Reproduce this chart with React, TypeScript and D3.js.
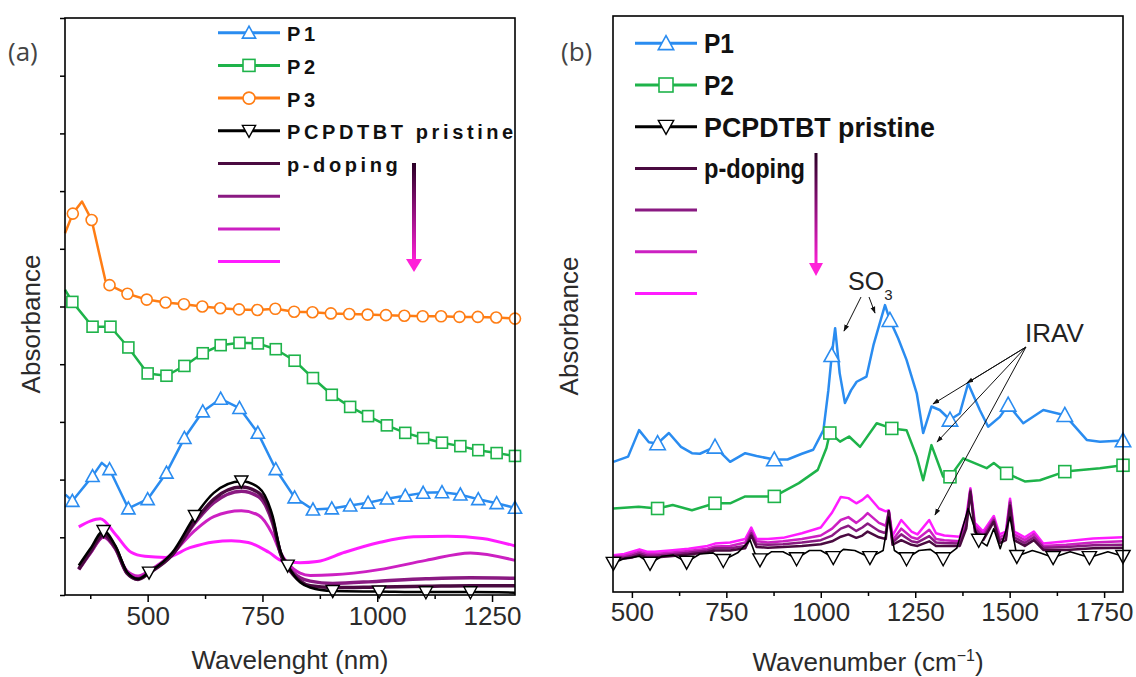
import React, { useRef, useEffect } from 'react';
import * as d3 from 'd3';

const W = 1136;
const H = 677;
const FONT = '"Liberation Sans", Arial, sans-serif';

// colours
const BLUE = '#2a8cf0';
const GREEN = '#1eb34a';
const ORANGE = '#ff7d14';
const DOPE = ['#4a0a40', '#8a1a82', '#cc20c2', '#ff1cff'];

// ---------- panel (a): [wavelength nm, absorbance, marker?] ----------
const p1A = [[321,1.74,0],[336,1.63,1],[380,2.06,1],[400,2.29,0],[417,2.18,1],[458,1.5,1],[500,1.66,1],[541,2.12,1],[580,2.72,1],[620,3.18,1],[659,3.4,1],[700,3.24,1],[740,2.81,1],[779,2.18,1],[820,1.69,1],[860,1.48,1],[901,1.5,1],[941,1.55,1],[980,1.6,1],[1021,1.67,1],[1061,1.72,1],[1100,1.77,1],[1141,1.78,1],[1181,1.74,1],[1220,1.66,1],[1260,1.59,1],[1300,1.51,1]];
const p2A = [[320,5.29,0],[336,5.08,1],[380,4.65,1],[419,4.65,1],[458,4.29,1],[500,3.84,1],[541,3.8,1],[580,3.97,1],[620,4.19,1],[659,4.33,1],[700,4.37,1],[740,4.36,1],[779,4.26,1],[820,4.06,1],[860,3.76,1],[901,3.47,1],[941,3.26,1],[980,3.1,1],[1021,2.94,1],[1061,2.81,1],[1100,2.72,1],[1141,2.64,1],[1181,2.58,1],[1220,2.51,1],[1260,2.46,1],[1300,2.41,1]];
const p3A = [[320,6.27,0],[337,6.61,1],[357,6.82,0],[378,6.5,1],[395,5.9,0],[408,5.45,0],[417,5.37,1],[456,5.22,1],[498,5.12,1],[539,5.07,1],[579,5.04,1],[619,5.0,1],[658,4.97,1],[699,4.95,1],[739,4.94,1],[778,4.96,1],[819,4.91,1],[859,4.9,1],[899,4.88,1],[939,4.87,1],[979,4.86,1],[1019,4.85,1],[1059,4.84,1],[1099,4.83,1],[1139,4.83,1],[1179,4.82,1],[1219,4.82,1],[1259,4.81,1],[1300,4.79,1]];
const pristineA = [[350,0.51,0],[375,0.8,0],[404,1.11,1],[430,0.85,0],[455,0.4,0],[479,0.28,0],[503,0.39,1],[554,0.74,0],[603,1.37,1],[644,1.77,0],[704,1.97,1],[742,1.86,0],[772,1.37,0],[790,0.74,0],[805,0.51,1],[832,0.22,0],[854,0.13,0],[903,0.07,1],[1004,0.06,1],[1106,0.05,1],[1203,0.05,1],[1300,0.04,0]];

// doped films, darkest -> brightest
const dopeNmA = [350,375,404,430,455,479,503,554,603,644,704,742,772,790,805,832,854,903,1004,1106,1203,1300];
const dope1A = [0.45,0.75,1.05,0.82,0.38,0.27,0.38,0.7,1.28,1.66,1.87,1.77,1.3,0.7,0.48,0.24,0.16,0.13,0.14,0.15,0.16,0.16];
const dope2A = [0.44,0.73,1.02,0.8,0.38,0.28,0.4,0.7,1.25,1.6,1.8,1.7,1.25,0.72,0.5,0.3,0.24,0.2,0.24,0.28,0.3,0.29];
const dope3A = [0.45,0.72,1.0,0.8,0.42,0.33,0.42,0.72,1.12,1.36,1.46,1.38,1.05,0.72,0.55,0.38,0.34,0.35,0.44,0.6,0.73,0.6];
const dope4NmA = [350,375,397,430,464,494,539,592,644,682,719,764,794,832,869,929,1004,1079,1154,1229,1300];
const dope4A = [1.18,1.28,1.32,1.05,0.74,0.67,0.65,0.82,0.92,0.94,0.91,0.74,0.59,0.56,0.58,0.74,0.91,1.01,1.02,0.98,0.85];

// ---------- panel (b): [wavenumber cm-1, absorbance, marker?] ----------
const p1B = [[451,2.26,0],[490,2.35,0],[519,2.81,0],[545,2.6,0],[568,2.58,1],[598,2.76,0],[630,2.52,0],[659,2.41,0],[680,2.4,0],[720,2.52,1],[760,2.26,0],[800,2.41,0],[830,2.36,0],[877,2.3,1],[912,2.3,0],[950,2.4,0],[980,2.47,0],[1007,2.81,0],[1020,3.5,0],[1029,4.11,1],[1038,4.58,0],[1050,3.8,0],[1064,3.28,0],[1080,3.5,0],[1095,3.65,0],[1121,3.74,0],[1140,4.3,0],[1170,4.98,0],[1183,4.72,1],[1205,4.4,0],[1227,4.03,0],[1254,3.45,0],[1271,2.76,0],[1293,3.22,0],[1315,3.16,0],[1342,2.99,1],[1368,3.1,0],[1390,3.62,0],[1421,3.16,0],[1443,2.87,0],[1474,3.04,0],[1496,3.25,1],[1536,2.93,0],[1589,3.16,0],[1646,3.07,1],[1704,2.64,0],[1739,2.61,0],[1800,2.63,1]];
const p2B = [[451,1.45,0],[518,1.48,0],[568,1.45,1],[608,1.51,0],[659,1.42,0],[720,1.54,1],[760,1.54,0],[800,1.66,0],[877,1.66,1],[942,1.89,0],[992,2.12,0],[1015,2.5,0],[1024,2.76,1],[1051,2.61,0],[1075,2.7,0],[1104,2.52,0],[1148,2.93,0],[1188,2.84,1],[1227,2.81,0],[1254,2.35,0],[1271,1.94,0],[1293,2.55,0],[1324,2.0,0],[1342,2.0,1],[1377,2.32,0],[1439,2.15,0],[1458,2.24,0],[1492,2.06,1],[1540,1.92,0],[1580,1.94,0],[1646,2.09,1],[1739,2.15,0],[1800,2.2,1]];
const pristineB = [[451,0.5,1],[480,0.58,0],[500,0.6,0],[520,0.62,0],[548,0.5,1],[580,0.62,0],[610,0.64,0],[645,0.52,1],[680,0.66,0],[715,0.68,0],[742,0.55,1],[780,0.68,0],[813,0.9,0],[825,0.68,0],[839,0.56,1],[870,0.7,0],[900,0.7,0],[936,0.58,1],[970,0.72,0],[1000,0.72,0],[1033,0.6,1],[1060,0.74,0],[1090,0.72,0],[1130,0.6,1],[1165,0.72,0],[1180,1.3,0],[1195,0.72,0],[1227,0.58,1],[1260,0.72,0],[1290,0.74,0],[1324,0.58,1],[1360,0.76,0],[1390,1.45,0],[1418,0.9,1],[1440,0.8,0],[1458,1.1,0],[1475,0.75,0],[1501,1.3,0],[1519,0.62,1],[1560,0.72,0],[1580,0.68,0],[1615,0.6,1],[1660,0.7,0],[1711,0.6,1],[1760,0.7,0],[1800,0.62,1]];

const dopeWnB = [451,480,500,520,540,560,600,650,700,720,760,800,816,830,860,900,950,1000,1030,1053,1073,1094,1110,1124,1154,1172,1180,1190,1213,1240,1256,1287,1305,1327,1368,1385,1396,1408,1430,1458,1473,1490,1501,1512,1540,1564,1589,1650,1721,1800];
const dope1B = [0.57,0.58,0.6,0.64,0.6,0.6,0.62,0.65,0.69,0.72,0.72,0.76,0.98,0.78,0.77,0.78,0.8,0.83,0.88,0.96,1.0,0.94,0.98,1.05,0.95,0.92,1.4,0.82,0.9,0.82,0.8,0.88,0.8,0.8,0.8,1.1,1.74,1.05,0.9,1.22,0.85,0.9,1.5,0.9,0.8,0.9,0.73,0.73,0.76,0.77];
const dope2B = [0.6,0.6,0.63,0.67,0.63,0.63,0.65,0.68,0.72,0.76,0.76,0.8,1.02,0.83,0.82,0.83,0.86,0.9,0.98,1.1,1.15,1.06,1.12,1.19,1.06,1.02,1.4,0.86,1.0,0.88,0.86,0.97,0.86,0.85,0.84,1.15,1.76,1.1,0.95,1.25,0.9,0.95,1.55,0.95,0.85,0.95,0.77,0.78,0.81,0.82];
const dope3B = [0.62,0.63,0.66,0.7,0.66,0.66,0.68,0.71,0.75,0.79,0.8,0.86,1.06,0.88,0.86,0.88,0.92,0.98,1.1,1.25,1.3,1.2,1.28,1.37,1.2,1.15,1.4,0.9,1.1,0.95,0.92,1.08,0.92,0.9,0.88,1.2,1.78,1.15,1.0,1.28,0.95,1.0,1.58,1.0,0.9,1.0,0.8,0.82,0.86,0.88];
const dope4B = [0.64,0.66,0.7,0.74,0.7,0.7,0.72,0.75,0.8,0.84,0.86,0.92,1.12,0.92,0.92,0.94,1.02,1.12,1.38,1.65,1.63,1.54,1.6,1.68,1.45,1.4,1.42,0.98,1.25,1.05,1.0,1.25,1.02,0.98,0.96,1.3,1.8,1.2,1.05,1.32,1.0,1.05,1.62,1.05,0.95,1.05,0.84,0.88,0.93,0.95];

// ticks and labels
const xMajorA = [500, 750, 1000, 1250];
const xMinorA = [375, 625, 875, 1125];
const yTicksA = [0, 1, 2, 3, 4, 5, 6, 7, 8, 9, 10];
const xMajorB = [500, 750, 1000, 1250, 1500, 1750];
const xMinorB = [625, 875, 1125, 1375, 1625];
const legendA = ['P1', 'P2', 'P3', 'PCPDTBT pristine', 'p-doping', '', '', ''];
const legendB = ['P1', 'P2', 'PCPDTBT pristine', 'p-doping', '', '', ''];
const legendBWidths = [30, 30, 231, 101, 0, 0, 0];

const zip = (xs, ys) => xs.map((x, i) => [x, ys[i], 0]);

const App = () => {
  const ref = useRef(null);

  useEffect(() => {
    const svg = d3.select(ref.current);
    svg.selectAll('*').remove();

    const defs = svg.append('defs');
    const grad = defs.append('linearGradient')
      .attr('id', 'dopeArrow').attr('x1', 0).attr('y1', 0).attr('x2', 0).attr('y2', 1);
    grad.append('stop').attr('offset', '0%').attr('stop-color', '#2a0026');
    grad.append('stop').attr('offset', '100%').attr('stop-color', '#ff20d8');
    defs.append('marker')
      .attr('id', 'head').attr('viewBox', '0 0 10 10').attr('refX', 9).attr('refY', 5)
      .attr('markerWidth', 7).attr('markerHeight', 7).attr('orient', 'auto')
      .append('path').attr('d', 'M0,1.5 L10,5 L0,8.5 Z').attr('fill', '#111');

    const xA = d3.scaleLinear().domain([320, 1300]).range([65, 515]);
    const yA = d3.scaleLinear().domain([0, 10]).range([595, 18]);
    const xB = d3.scaleLinear().domain([450, 1800]).range([613, 1123]);
    const yB = d3.scaleLinear().domain([0, 10]).range([592, 16]);

    const marker = (g, type, cx, cy, s, color) => {
      if (type === 'tri') {
        g.append('path')
          .attr('d', `M${cx},${cy - s * 0.55} L${cx + s * 0.55},${cy + s * 0.45} L${cx - s * 0.55},${cy + s * 0.45} Z`)
          .attr('fill', '#fff').attr('stroke', color).attr('stroke-width', 1.6);
      } else if (type === 'dtri') {
        g.append('path')
          .attr('d', `M${cx},${cy + s * 0.55} L${cx + s * 0.55},${cy - s * 0.45} L${cx - s * 0.55},${cy - s * 0.45} Z`)
          .attr('fill', '#fff').attr('stroke', color).attr('stroke-width', 1.4);
      } else if (type === 'sq') {
        g.append('rect').attr('x', cx - s / 2).attr('y', cy - s / 2).attr('width', s).attr('height', s)
          .attr('fill', '#fff').attr('stroke', color).attr('stroke-width', 1.6);
      } else if (type === 'circ') {
        g.append('circle').attr('cx', cx).attr('cy', cy).attr('r', s / 2)
          .attr('fill', '#fff').attr('stroke', color).attr('stroke-width', 1.6);
      }
    };

    const drawSeries = (x, y, data, color, type, size, width, curve) => {
      const g = svg.append('g');
      const line = d3.line().x(d => x(d[0])).y(d => y(d[1])).curve(curve);
      g.append('path').datum(data).attr('d', line).attr('fill', 'none')
        .attr('stroke', color).attr('stroke-width', width).attr('stroke-linejoin', 'round');
      if (type) data.filter(d => d[2]).forEach(d => marker(g, type, x(d[0]), y(d[1]), size, color));
    };

    const frame = (l, t, r, b) => {
      svg.append('rect').attr('x', l).attr('y', t).attr('width', r - l).attr('height', b - t)
        .attr('fill', 'none').attr('stroke', '#000').attr('stroke-width', 1.6);
    };

    const styleAxis = (g, fs) => {
      g.select('.domain').remove();
      g.selectAll('line').attr('stroke', '#000').attr('stroke-width', 1.5);
      g.selectAll('text').attr('font-size', fs).attr('font-family', FONT).attr('fill', '#2b2b2b');
    };

    // vertical arrow shaded from dark purple to magenta
    const gradArrow = (x, y1, y2, w, hw) => {
      svg.append('rect').attr('x', x - w / 2).attr('y', y1).attr('width', w).attr('height', y2 - y1 - 10)
        .attr('fill', 'url(#dopeArrow)');
      svg.append('path').attr('d', `M${x - hw},${y2 - 13} L${x + hw},${y2 - 13} L${x},${y2} Z`).attr('fill', '#ff20d8');
    };

    const fmt = d3.format('d');

    // ===== panel (a) =====
    const mono = d3.curveMonotoneX;
    drawSeries(xA, yA, zip(dope4NmA, dope4A), DOPE[3], null, 0, 3, mono);
    drawSeries(xA, yA, zip(dopeNmA, dope3A), DOPE[2], null, 0, 3, mono);
    drawSeries(xA, yA, zip(dopeNmA, dope2A), DOPE[1], null, 0, 3.5, mono);
    drawSeries(xA, yA, zip(dopeNmA, dope1A), DOPE[0], null, 0, 3.5, mono);
    drawSeries(xA, yA, pristineA, '#000', 'dtri', 12, 2.5, mono);
    drawSeries(xA, yA, p1A, BLUE, 'tri', 12, 2.5, d3.curveLinear);
    drawSeries(xA, yA, p2A, GREEN, 'sq', 11, 2.5, d3.curveLinear);
    drawSeries(xA, yA, p3A, ORANGE, 'circ', 11, 2.5, d3.curveLinear);

    frame(65, 18, 515, 595);
    styleAxis(svg.append('g').attr('transform', 'translate(0,595)')
      .call(d3.axisBottom(xA).tickValues(xMajorA).tickSize(7).tickPadding(5).tickFormat(fmt)), 26);
    styleAxis(svg.append('g').attr('transform', 'translate(0,595)')
      .call(d3.axisBottom(xA).tickValues(xMinorA).tickSize(4).tickFormat(() => '')), 26);
    styleAxis(svg.append('g').attr('transform', 'translate(65,0)')
      .call(d3.axisLeft(yA).tickValues(yTicksA).tickSize(5).tickFormat(() => '')), 26);

    svg.append('text').attr('x', 290).attr('y', 669).attr('text-anchor', 'middle')
      .attr('font-size', 26).attr('font-family', FONT).attr('fill', '#2b2b2b').text('Wavelenght (nm)');
    svg.append('text').attr('transform', 'translate(40,324) rotate(-90)').attr('text-anchor', 'middle')
      .attr('font-size', 26).attr('font-family', FONT).attr('fill', '#2b2b2b').text('Absorbance');
    svg.append('text').attr('x', 8).attr('y', 61).attr('font-size', 26)
      .attr('font-family', '"Open Sans", sans-serif').attr('fill', '#444').text('(a)');

    // legend (a)
    const typesA = ['tri', 'sq', 'circ', 'dtri', null, null, null, null];
    const colorsA = [BLUE, GREEN, ORANGE, '#000', DOPE[0], DOPE[1], DOPE[2], DOPE[3]];
    legendA.forEach((label, i) => {
      const yy = 32.7 + i * 32.7;
      const g = svg.append('g');
      g.append('line').attr('x1', 218).attr('x2', 280).attr('y1', yy).attr('y2', yy)
        .attr('stroke', colorsA[i]).attr('stroke-width', 3);
      if (typesA[i]) marker(g, typesA[i], 249, yy, 12, colorsA[i]);
      if (label) {
        g.append('text').attr('x', 287).attr('y', yy + 8.5).attr('font-size', 20)
          .attr('font-weight', 'bold').attr('letter-spacing', 3.6).attr('font-family', FONT)
          .attr('fill', '#111').text(label);
      }
    });
    gradArrow(414, 163, 272, 4, 8);

    // ===== panel (b) =====
    const lin = d3.curveLinear;
    drawSeries(xB, yB, zip(dopeWnB, dope4B), DOPE[3], null, 0, 2.5, lin);
    drawSeries(xB, yB, zip(dopeWnB, dope3B), DOPE[2], null, 0, 2.5, lin);
    drawSeries(xB, yB, zip(dopeWnB, dope2B), DOPE[1], null, 0, 2.5, lin);
    drawSeries(xB, yB, zip(dopeWnB, dope1B), DOPE[0], null, 0, 2.5, lin);
    drawSeries(xB, yB, pristineB, '#000', 'dtri', 13, 1.6, lin);
    drawSeries(xB, yB, p1B, BLUE, 'tri', 14, 2.5, lin);
    drawSeries(xB, yB, p2B, GREEN, 'sq', 12, 2.5, lin);

    frame(613, 16, 1123, 592);
    styleAxis(svg.append('g').attr('transform', 'translate(0,592)')
      .call(d3.axisBottom(xB).tickValues(xMajorB).tickSize(6).tickPadding(5).tickFormat(fmt)), 26);
    styleAxis(svg.append('g').attr('transform', 'translate(0,592)')
      .call(d3.axisBottom(xB).tickValues(xMinorB).tickSize(4).tickFormat(() => '')), 26);

    const tB = svg.append('text').attr('x', 868).attr('y', 671).attr('text-anchor', 'middle')
      .attr('font-size', 26).attr('font-family', FONT).attr('fill', '#2b2b2b');
    tB.append('tspan').text('Wavenumber (cm');
    tB.append('tspan').attr('dy', -10).attr('font-size', 16).text('\u22121');
    tB.append('tspan').attr('dy', 10).text(')');
    svg.append('text').attr('transform', 'translate(578,326) rotate(-90)').attr('text-anchor', 'middle')
      .attr('font-size', 26).attr('font-family', FONT).attr('fill', '#2b2b2b').text('Absorbance');
    svg.append('text').attr('x', 561).attr('y', 61).attr('font-size', 26)
      .attr('font-family', '"Open Sans", sans-serif').attr('fill', '#444').text('(b)');

    // legend (b)
    const typesB = ['tri', 'sq', 'dtri', null, null, null, null];
    const colorsB = [BLUE, GREEN, '#000', DOPE[0], DOPE[1], DOPE[2], DOPE[3]];
    legendB.forEach((label, i) => {
      const yy = 43.3 + i * 41.7;
      const g = svg.append('g');
      g.append('line').attr('x1', 635).attr('x2', 697).attr('y1', yy).attr('y2', yy)
        .attr('stroke', colorsB[i]).attr('stroke-width', 3);
      if (typesB[i]) marker(g, typesB[i], 666, yy, 14, colorsB[i]);
      if (label) {
        g.append('text').attr('x', 704).attr('y', yy + 10).attr('font-size', 27)
          .attr('font-weight', 'bold').attr('font-family', FONT).attr('fill', '#111')
          .attr('textLength', legendBWidths[i]).attr('lengthAdjust', 'spacingAndGlyphs').text(label);
      }
    });
    gradArrow(816, 153, 276, 3, 7);

    // annotations
    const so3 = svg.append('text').attr('x', 848).attr('y', 290).attr('font-size', 25)
      .attr('font-family', FONT).attr('fill', '#222');
    so3.append('tspan').text('SO');
    so3.append('tspan').attr('dy', 10).attr('font-size', 15).text('3');
    const arrow = (x1, y1, x2, y2) => svg.append('line')
      .attr('x1', x1).attr('y1', y1).attr('x2', x2).attr('y2', y2)
      .attr('stroke', '#111').attr('stroke-width', 1).attr('marker-end', 'url(#head)');
    arrow(861, 297, 844, 331);
    arrow(869, 297, 875, 313);
    svg.append('text').attr('x', 1025).attr('y', 342).attr('font-size', 26)
      .attr('font-family', FONT).attr('fill', '#222').text('IRAV');
    arrow(1026, 347, 933, 404);
    arrow(1026, 347, 967, 383);
    arrow(1026, 347, 937, 442);
    arrow(1026, 347, 935, 515);
  }, []);

  return (
    <svg ref={ref} width={W} height={H}
      style={{ position: 'absolute', left: 0, top: 0, background: '#fff' }} />
  );
};

export default App;
